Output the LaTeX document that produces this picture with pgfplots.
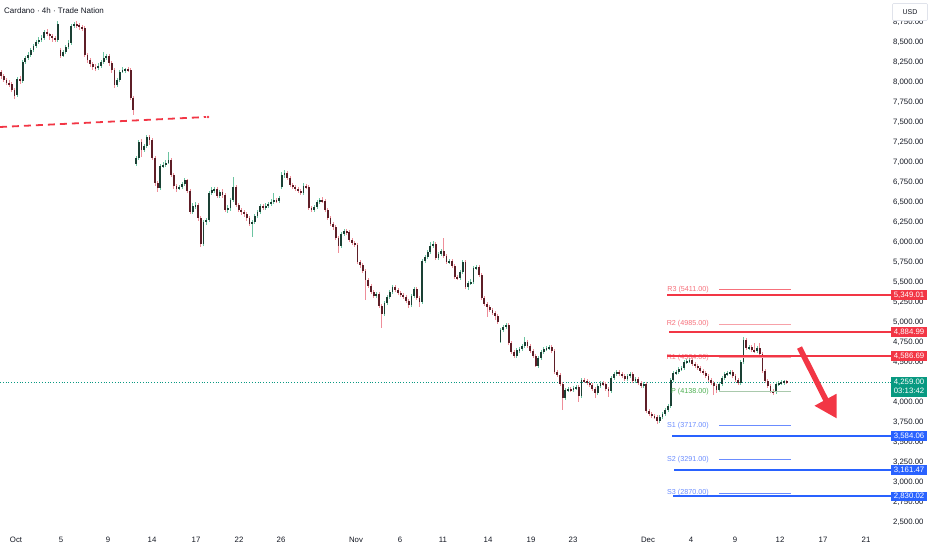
\documentclass[border=0pt]{standalone}
\usepackage{fontspec}
\setmainfont{Liberation Sans}
\usepackage{pgfplots}
\usepackage{pgfplotstable}
\pgfplotsset{compat=1.18}
\definecolor{upbody}{HTML}{1A4034}
\definecolor{upwick}{HTML}{6CC4A1}
\definecolor{dnbody}{HTML}{5E1E27}
\definecolor{dnwick}{HTML}{EE8E99}
\definecolor{tvred}{HTML}{F23645}
\definecolor{tvblue}{HTML}{2962FF}
\definecolor{tvgreen}{HTML}{089981}
\definecolor{txt}{HTML}{131722}
\definecolor{rthin}{HTML}{F6707B}
\definecolor{rtwo}{HTML}{F7A1A8}
\definecolor{sthin}{HTML}{6A8CFF}
\definecolor{pline}{HTML}{A9C9AC}
\definecolor{ptext}{HTML}{4CAF50}
\definecolor{usdb}{HTML}{E0E3EB}

\pgfplotstableread{
o h l c
8134 8159 8046.5 8084
8084 8109 8009 8034
8034 8059 7971.5 7996.5
7996.5 8034 7946.5 7984
7984 8009 7884 7909
7909 7934 7796.5 7834
7846.5 8071.5 7821.5 8046.5
8046.5 8084 7984 8021.5
8021.5 8284 7996.5 8259
8259 8334 8234 8309
8309 8384 8284 8346.5
8346.5 8434 8321.5 8409
8409 8484 8384 8459
8459 8534 8434 8509
8509 8571.5 8484 8534
8534 8596.5 8509 8559
8559 8659 8534 8634
8634 8671.5 8584 8609
8609 8621.5 8534 8584
8584 8609 8509 8559
8559 8584 8509 8534
8534 8771.5 8509 8734
8409 8434 8309 8334
8334 8409 8321.5 8384
8384 8471.5 8359 8446.5
8446.5 8534 8421.5 8496.5
8496.5 8734 8471.5 8709
8709 8759 8684 8734
8734 8771.5 8684 8721.5
8721.5 8746.5 8659 8696.5
8696.5 8721.5 8646.5 8684
8684 8709 8321.5 8346.5
8346.5 8371.5 8246.5 8284
8284 8309 8196.5 8234
8234 8259 8159 8196.5
8196.5 8234 8146.5 8184
8184 8246.5 8159 8209
8209 8284 8184 8259
8259 8384 8234 8309
8309 8359 8284 8334
8334 8359 8209 8246.5
8246.5 8271.5 8121.5 8159
8159 8184 7934 7971.5
7971.5 8059 7946.5 8034
8034 8159 8009 8134
8134 8196.5 8121.5 8159
8146.5 8184 8121.5 8171.5
8171.5 8196.5 8134 8159
8159 8184 7784 7809
7809 7834 7596.5 7659
6984 7084 6959 7059
7059 7284 7034 7259
7259 7296.5 7071.5 7159
7159 7234 7134 7209
7209 7346.5 7184 7321.5
7321.5 7346.5 7221.5 7284
7284 7309 7034 7059
7059 7084 6709 6746.5
6746.5 6771.5 6634 6684
6684 6984 6659 6959
6959 7009 6934 6971.5
6971.5 7034 6946.5 6996.5
6996.5 7134 6984 7034
7034 7059 6821.5 6846.5
6846.5 6871.5 6671.5 6709
6709 6734 6634 6671.5
6671.5 6721.5 6659 6696.5
6696.5 6759 6671.5 6734
6734 6809 6709 6784
6784 6796.5 6621.5 6646.5
6646.5 6671.5 6359 6384
6384 6496.5 6359 6459
6459 6509 6421.5 6471.5
6471.5 6496.5 6271.5 6309
6309 6334 5946.5 5984
5984 6284 5959 6259
6259 6309 6221.5 6284
6284 6646.5 6259 6621.5
6621.5 6696.5 6596.5 6659
6646.5 6696.5 6621.5 6671.5
6671.5 6696.5 6559 6584
6584 6659 6559 6634
6634 6671.5 6559 6596.5
6596.5 6621.5 6384 6409
6409 6471.5 6371.5 6434
6434 6559 6396.5 6534
6534 6821.5 6509 6696.5
6696.5 6721.5 6446.5 6471.5
6471.5 6496.5 6384 6409
6409 6434 6346.5 6384
6384 6409 6321.5 6359
6359 6384 6271.5 6309
6309 6334 6209 6234
6234 6284 6071.5 6259
6259 6359 6234 6334
6334 6409 6309 6384
6384 6484 6359 6459
6459 6484 6409 6434
6434 6496.5 6409 6459
6459 6509 6434 6484
6484 6546.5 6459 6509
6509 6621.5 6484 6534
6534 6559 6496.5 6521.5
6521.5 6584 6496.5 6559
6696.5 6884 6671.5 6846.5
6846.5 6909 6809 6871.5
6871.5 6896.5 6784 6809
6809 6834 6696.5 6721.5
6721.5 6746.5 6671.5 6696.5
6696.5 6721.5 6646.5 6671.5
6671.5 6696.5 6621.5 6646.5
6646.5 6671.5 6596.5 6621.5
6621.5 6746.5 6596.5 6709
6709 6734 6671.5 6696.5
6696.5 6721.5 6409 6434
6434 6459 6384 6409
6409 6471.5 6384 6446.5
6446.5 6534 6421.5 6509
6509 6559 6484 6534
6534 6571.5 6496.5 6521.5
6521.5 6546.5 6384 6409
6409 6434 6284 6309
6309 6334 6209 6234
6234 6259 6159 6196.5
6196.5 6221.5 6034 6059
6059 6084 5871.5 5959
5959 6134 5934 6109
6109 6171.5 6084 6146.5
6146.5 6171.5 6096.5 6134
6134 6159 6009 6034
6034 6059 5971.5 5996.5
5996.5 6021.5 5946.5 5971.5
5971.5 5996.5 5734 5759
5759 5784 5684 5721.5
5721.5 5746.5 5621.5 5646.5
5646.5 5671.5 5284 5534
5534 5559 5434 5459
5459 5484 5359 5384
5384 5409 5309 5334
5334 5384 5309 5359
5359 5384 5184 5209
5209 5234 4934 5109
5109 5271.5 5084 5246.5
5246.5 5346.5 5221.5 5321.5
5321.5 5409 5296.5 5384
5384 5471.5 5359 5446.5
5446.5 5471.5 5384 5409
5409 5434 5346.5 5371.5
5371.5 5396.5 5321.5 5346.5
5346.5 5371.5 5296.5 5321.5
5321.5 5346.5 5246.5 5271.5
5271.5 5296.5 5184 5221.5
5221.5 5359 5196.5 5334
5334 5446.5 5309 5421.5
5421.5 5446.5 5284 5309
5309 5334 5196.5 5259
5259 5796.5 5234 5771.5
5771.5 5846.5 5746.5 5821.5
5821.5 5909 5796.5 5884
5884 6009 5859 5959
5959 6021.5 5934 5984
5984 6009 5784 5809
5809 5884 5784 5859
5859 5921.5 5834 5896.5
5896.5 6059 5809 5834
5834 5859 5734 5759
5759 5796.5 5734 5771.5
5771.5 5796.5 5684 5709
5709 5734 5546.5 5571.5
5571.5 5596.5 5534 5559
5559 5659 5534 5634
5634 5784 5609 5759
5759 5784 5421.5 5446.5
5446.5 5521.5 5409 5496.5
5496.5 5546.5 5471.5 5509
5509 5709 5484 5684
5684 5721.5 5659 5696.5
5696.5 5721.5 5571.5 5596.5
5596.5 5621.5 5284 5309
5309 5334 5209 5234
5234 5259 5071.5 5196.5
5196.5 5221.5 5134 5159
5159 5184 5096.5 5121.5
5121.5 5146.5 5034 5084
5084 5109 4984 5009
4759 4934 4746.5 4909
4909 4971.5 4884 4946.5
4946.5 4996.5 4921.5 4971.5
4971.5 4996.5 4721.5 4746.5
4746.5 4771.5 4609 4634
4634 4659 4559 4584
4584 4684 4559 4659
4646.5 4696.5 4621.5 4671.5
4671.5 4734 4646.5 4709
4709 4821.5 4684 4759
4759 4784 4684 4709
4709 4734 4621.5 4646.5
4646.5 4671.5 4559 4584
4584 4609 4446.5 4459
4459 4584 4434 4559
4559 4659 4534 4634
4634 4696.5 4609 4671.5
4671.5 4709 4646.5 4684
4684 4721.5 4659 4696.5
4696.5 4721.5 4621.5 4646.5
4646.5 4671.5 4359 4384
4384 4409 4321.5 4346.5
4346.5 4371.5 4209 4234
4234 4259 3909 4059
4059 4184 4034 4159
4159 4196.5 4134 4171.5
4171.5 4196.5 4134 4159
4159 4209 4134 4184
4184 4221.5 4159 4196.5
4196.5 4221.5 4009 4084
4084 4309 4059 4284
4284 4309 4246.5 4271.5
4271.5 4296.5 4221.5 4246.5
4246.5 4271.5 4196.5 4221.5
4221.5 4246.5 4146.5 4171.5
4171.5 4196.5 4059 4121.5
4121.5 4234 4096.5 4209
4209 4271.5 4184 4246.5
4246.5 4271.5 4209 4234
4234 4259 4146.5 4171.5
4171.5 4196.5 4071.5 4146.5
4146.5 4334 4121.5 4309
4309 4384 4284 4359
4359 4409 4334 4384
4384 4409 4334 4359
4359 4384 4309 4334
4334 4359 4271.5 4296.5
4296.5 4359 4271.5 4334
4334 4384 4309 4359
4359 4384 4246.5 4271.5
4271.5 4321.5 4246.5 4296.5
4296.5 4321.5 4221.5 4246.5
4246.5 4271.5 4184 4209
4209 4259 4184 4234
4234 4259 3871.5 3896.5
3896.5 3921.5 3834 3859
3859 3884 3809 3834
3834 3859 3796.5 3821.5
3821.5 3846.5 3734 3771.5
3771.5 3846.5 3746.5 3821.5
3821.5 3884 3796.5 3859
3859 3934 3834 3909
3909 3984 3884 3959
3959 4309 3934 4284
4284 4396.5 4259 4371.5
4371.5 4409 4346.5 4384
4384 4446.5 4359 4421.5
4421.5 4459 4396.5 4434
4434 4534 4409 4509
4509 4546.5 4484 4521.5
4521.5 4559 4496.5 4534
4534 4559 4459 4484
4484 4509 4434 4459
4459 4484 4409 4434
4434 4459 4371.5 4396.5
4396.5 4421.5 4346.5 4371.5
4371.5 4396.5 4309 4334
4334 4359 4259 4284
4284 4309 4221.5 4246.5
4246.5 4271.5 4096.5 4209
4209 4234 4121.5 4159
4159 4259 4134 4234
4234 4334 4209 4309
4309 4384 4284 4359
4359 4396.5 4334 4371.5
4371.5 4409 4346.5 4384
4384 4409 4309 4334
4334 4359 4259 4284
4284 4309 4221.5 4246.5
4246.5 4534 4221.5 4509
4509 4821.5 4484 4784
4784 4809 4659 4684
4684 4721.5 4659 4696.5
4696.5 4721.5 4634 4659
4659 4746.5 4621.5 4646.5
4646.5 4709 4621.5 4684
4684 4746.5 4584 4609
4609 4634 4371.5 4396.5
4396.5 4421.5 4246.5 4271.5
4271.5 4296.5 4184 4209
4209 4234 4121.5 4146.5
4146.5 4171.5 4096.5 4134
4134 4259 4109 4234
4234 4271.5 4209 4246.5
4246.5 4284 4221.5 4259
4246.5 4284 4221.5 4271.5
4271.5 4284 4234 4259
}\candles
\pgfplotstablecreatecol[expr={1+2.7*\pgfplotstablerow}]{x}{\candles}

\begin{document}
\begin{tikzpicture}
\begin{axis}[
  at={(0pt,22pt)}, anchor=south west,
  scale only axis, width=888pt, height=528pt,
  xmin=0, xmax=888, ymin=2434, ymax=9034,
  clip=false,
  axis line style={draw=none},
  major tick length=0pt,
  tick style={draw=none},
  xtick={16,61,108,152,196,239,281,356,400,443,488,531,573,648,691,735,780,823,866},
  xticklabels={Oct,5,9,14,17,22,26,Nov,6,11,14,19,23,Dec,4,9,12,17,21},
  xticklabel style={font=\fontsize{7.8}{9}\selectfont, text=txt, anchor=center, yshift=-12pt},
  ytick={2500,2750,...,8750},
  yticklabel pos=right,
  yticklabel style={font=\fontsize{7.8}{9}\selectfont, text=txt, anchor=east, xshift=39pt,
    /pgf/number format/.cd, fixed, fixed zerofill, precision=2, 1000 sep={,}, assume math mode=true},
  scaled y ticks=false,
  unbounded coords=discard,
  candle/.style={draw=none, mark=none, forget plot, error bars/.cd, y dir=both, y explicit, error mark=none},
]
% red dashed trend line
\draw[tvred, line width=1.8pt, dash pattern=on 7pt off 5pt] (axis cs:0,7446.5) -- (axis cs:206,7571.5);
\fill[tvred] (axis cs:208,7571.5) circle[radius=1.4pt];
% current price dotted line
\draw[tvgreen, line width=0.6pt, dash pattern=on 0.8pt off 2pt] (axis cs:0,4259) -- (axis cs:891,4259);

% candles: up
\addplot[candle, error bar style={line width=0.7pt, draw=upwick, line cap=butt}]
  table[x=x, y expr={(\thisrow{c}>=\thisrow{o}) ? 0.5*(\thisrow{h}+\thisrow{l}) : nan},
        y error expr={0.5*(\thisrow{h}-\thisrow{l})}] {\candles};
\addplot[candle, error bar style={line width=1.8pt, draw=upbody, line cap=butt}]
  table[x=x, y expr={(\thisrow{c}>=\thisrow{o}) ? 0.5*(\thisrow{o}+\thisrow{c}) : nan},
        y error expr={max(0.5*abs(\thisrow{c}-\thisrow{o}),7)}] {\candles};
% candles: down
\addplot[candle, error bar style={line width=0.7pt, draw=dnwick, line cap=butt}]
  table[x=x, y expr={(\thisrow{c}<\thisrow{o}) ? 0.5*(\thisrow{h}+\thisrow{l}) : nan},
        y error expr={0.5*(\thisrow{h}-\thisrow{l})}] {\candles};
\addplot[candle, error bar style={line width=1.8pt, draw=dnbody, line cap=butt}]
  table[x=x, y expr={(\thisrow{c}<\thisrow{o}) ? 0.5*(\thisrow{o}+\thisrow{c}) : nan},
        y error expr={max(0.5*abs(\thisrow{c}-\thisrow{o}),7)}] {\candles};

% pivot thin lines and labels
\draw[rthin, line width=0.8pt] (axis cs:719,5411) -- (axis cs:791,5411);
\draw[rtwo, line width=0.8pt] (axis cs:719,4985) -- (axis cs:791,4985);
\draw[rtwo, line width=0.8pt] (axis cs:719,4564) -- (axis cs:791,4564);
\draw[pline, line width=1.3pt] (axis cs:719,4138) -- (axis cs:791,4138);
\draw[sthin, line width=0.8pt] (axis cs:719,3717) -- (axis cs:791,3717);
\draw[sthin, line width=0.8pt] (axis cs:719,3291) -- (axis cs:791,3291);
\draw[sthin, line width=0.8pt] (axis cs:719,2870) -- (axis cs:791,2870);
\begin{scope}[every node/.style={font=\fontsize{7.2}{8}\selectfont, anchor=east, inner sep=0pt}]
\node[text=rthin] at (axis cs:709,5411) {R3 (5411.00)};
\node[text=rthin] at (axis cs:709,4985) {R2 (4985.00)};
\node[text=rthin] at (axis cs:709,4564) {R1 (4564.00)};
\node[text=ptext] at (axis cs:709,4138) {P (4138.00)};
\node[text=sthin] at (axis cs:709,3717) {S1 (3717.00)};
\node[text=sthin] at (axis cs:709,3291) {S2 (3291.00)};
\node[text=sthin] at (axis cs:709,2870) {S3 (2870.00)};
\end{scope}

% thick levels
\draw[tvred, line width=1.8pt] (axis cs:667,5349.01) -- (axis cs:892,5349.01);
\draw[tvred, line width=1.8pt] (axis cs:669,4884.99) -- (axis cs:892,4884.99);
\draw[tvred, line width=1.8pt] (axis cs:667,4586.69) -- (axis cs:892,4586.69);
\draw[tvblue, line width=1.8pt] (axis cs:672,3584.06) -- (axis cs:892,3584.06);
\draw[tvblue, line width=1.8pt] (axis cs:674,3161.47) -- (axis cs:892,3161.47);
\draw[tvblue, line width=1.8pt] (axis cs:673,2830.02) -- (axis cs:892,2830.02);

% arrow
\draw[tvred, line width=5.5pt] (axis cs:799.5,4690) -- (axis cs:826.5,4020);
\fill[tvred] (axis cs:836.7,3805) -- (axis cs:814.5,3962) -- (axis cs:836.5,4112) -- cycle;

\coordinate (bA) at (axis cs:909,5349.01);
\coordinate (bB) at (axis cs:909,4884.99);
\coordinate (bC) at (axis cs:909,4586.69);
\coordinate (bD) at (axis cs:909,3584.06);
\coordinate (bE) at (axis cs:909,3161.47);
\coordinate (bF) at (axis cs:909,2830.02);
\coordinate (bG) at (axis cs:909,4200);
\coordinate (usd) at (axis cs:910,8884);
\coordinate (ttl) at (axis cs:4,8896.5);
\end{axis}
\begin{scope}[every node/.style={font=\fontsize{7.8}{9}\selectfont, text=white, inner sep=0pt, minimum width=36pt, minimum height=9.5pt}]
\node[fill=tvred] at (bA) {5,349.01};
\node[fill=tvred] at (bB) {4,884.99};
\node[fill=tvred] at (bC) {4,586.69};
\node[fill=tvblue] at (bD) {3,584.06};
\node[fill=tvblue] at (bE) {3,161.47};
\node[fill=tvblue] at (bF) {2,830.02};
\node[fill=tvgreen, minimum height=20pt, align=center] at (bG) {4,259.00\\[0pt]03:13:42};
\end{scope}
\node[fill=white, draw=usdb, line width=0.6pt, rounded corners=1pt, minimum width=35pt, minimum height=17pt, inner sep=0pt, font=\fontsize{7}{8}\selectfont, text=txt] at (usd) {USD};
\node[anchor=west, inner sep=0pt, font=\fontsize{8}{9}\selectfont, text=txt] at (ttl) {Cardano · 4h · Trade Nation};
\pgfresetboundingbox
\path[use as bounding box] (0pt,0pt) rectangle (932pt,550pt);
\end{tikzpicture}
\end{document}
